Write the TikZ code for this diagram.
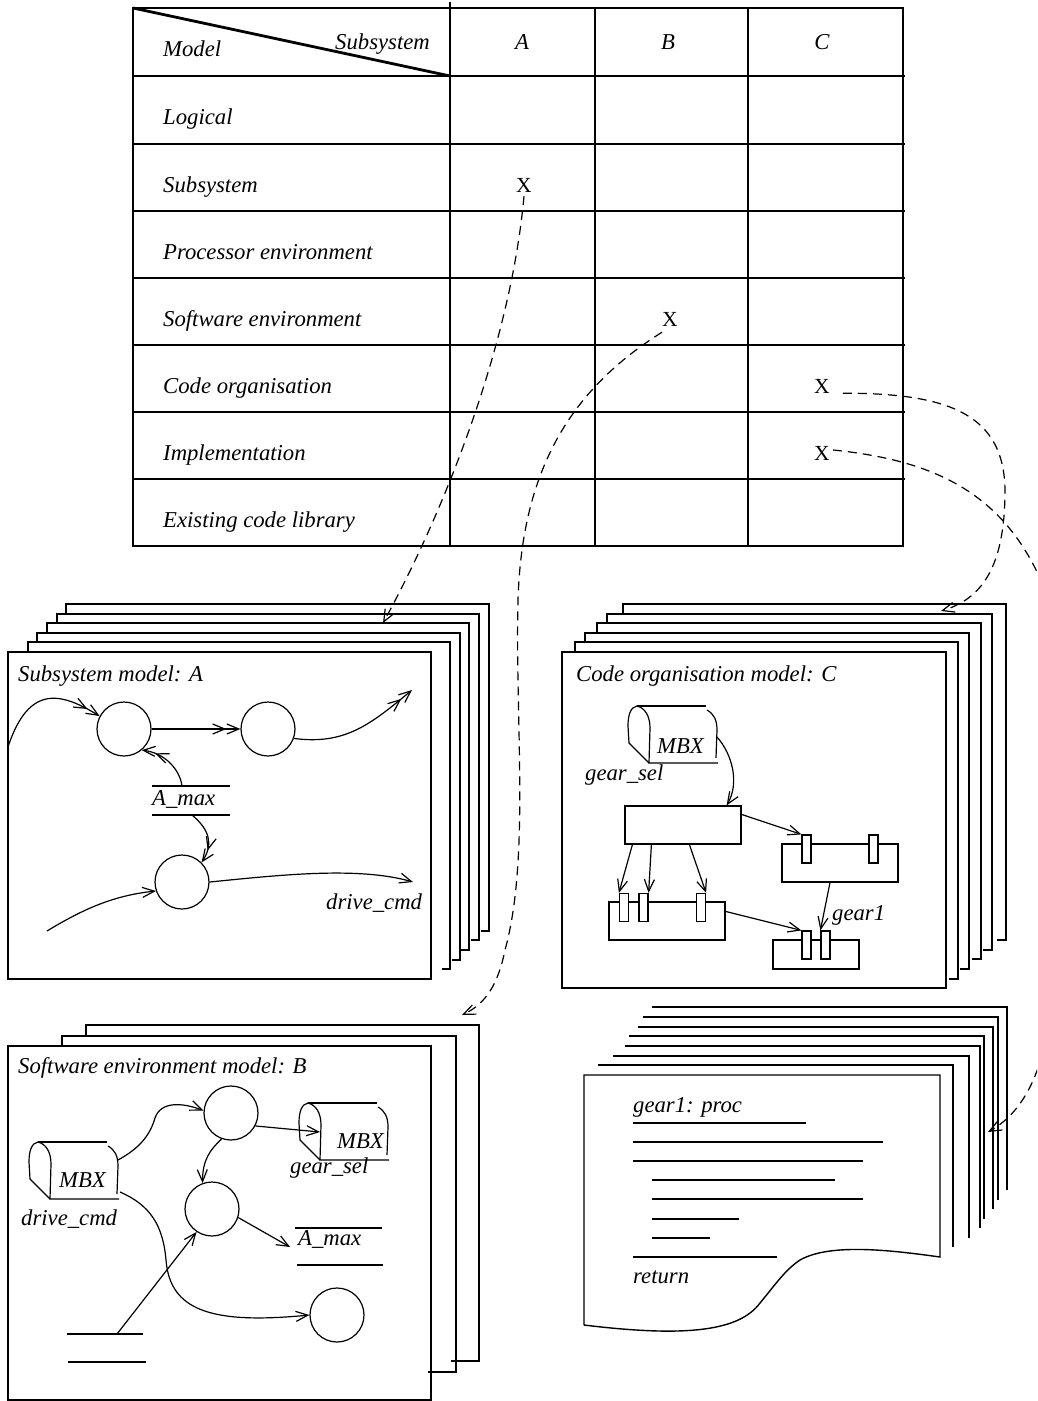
\documentclass[tikz,border=0pt]{standalone}
\usepackage{fontspec}
\setmainfont{Liberation Serif}
\usetikzlibrary{arrows.meta,bending}
\begin{document}
\begin{tikzpicture}[x=1pt,y=-1pt,
 tbl/.style={line width=2.8pt},
 pg/.style={line width=1.4pt},
 ln/.style={line width=1.2pt},
 txt/.style={inner sep=0pt, anchor=base west, font=\itshape\fontsize{22.7}{27}\selectfont},
 xmark/.style={inner sep=0pt, anchor=base, font=\upshape\fontsize{21.5}{25}\selectfont},
 circ/.style={circle, draw, line width=1.2pt, minimum size=54pt, inner sep=0pt},
 box/.style={draw, line width=1.2pt, inner sep=0pt},
 tab/.style={draw, fill=white, line width=1.2pt, inner sep=0pt, minimum width=9pt, minimum height=28pt},
 sa/.style={ln, -{Straight Barb[length=12pt,width=10pt]}},
 da/.style={ln, -{Straight Barb[length=12pt,width=10pt] Straight Barb[length=12pt,width=10pt]}},
 dsh/.style={ln, dash pattern=on 9pt off 6pt, -{Straight Barb[length=12pt,width=10pt]}},
 mbx/.pic={
  \draw[ln] (0,0) -- (69,0);
  \draw[ln] (0,0) .. controls (-6,1) and (-9,8) .. (-9,20) -- (-8,37) -- (12,57);
  \draw[ln] (0,0) .. controls (8,2) and (13,10) .. (13,22) -- (12,57) -- (81,57);
  \draw[ln] (70,4) .. controls (77,8) and (80,14) .. (80,24) -- (79,52);
  \coordinate (-a) at (80,18);
  \coordinate (-b) at (80,31);
  \coordinate (-c) at (82,50);
  \coordinate (-d) at (12,29);
 }]
\useasboundingbox (0,0) rectangle (1037,1401);
\clip (0,0) rectangle (1037,1401);

% ---------------- table ----------------
\draw[tbl] (133,8) rectangle (903,546);
\foreach \y in {76,144,211,278,345,412,479} \draw[tbl] (133,\y) -- (905,\y);
\foreach \x in {595,748} \draw[tbl] (\x,8) -- (\x,546);
\draw[tbl] (450,2) -- (450,546);
\draw[tbl] (133,8) -- (450,76);
\node[txt] (hmodel) at (163,56) {Model};
\node[txt, anchor=base east] (hsub) at (430,49) {Subsystem};
\node[txt, anchor=base] (hA) at (522,49) {A};
\node[txt, anchor=base] (hB) at (668,49) {B};
\node[txt, anchor=base] (hC) at (822,49) {C};
\node[txt] (r1) at (163,124) {Logical};
\node[txt] (r2) at (163,192) {Subsystem};
\node[txt] (r3) at (163,259) {Processor environment};
\node[txt] (r4) at (163,326) {Software environment};
\node[txt] (r5) at (163,393) {Code organisation};
\node[txt] (r6) at (163,460) {Implementation};
\node[txt] (r7) at (163,527) {Existing code library};
\node[xmark] (xA) at (524,192) {X};
\node[xmark] (xB) at (670,326) {X};
\node[xmark] (xC1) at (822,393) {X};
\node[xmark] (xC2) at (822,460) {X};

% ---------------- Subsystem model A stack ----------------
\foreach \L/\T/\R/\B/\P in {28/642/450/969/652, 37/633/460/960/642, 47/623/469/950/633, 57/614/479/940/623, 66/604/489/931/614}
  \draw[pg] (\L,\P) -- (\L,\T) -- (\R,\T) -- (\R,\B) -- ++(-8,0);
\draw[pg] (8,652) rectangle (431,979);
\node[txt] (tA) at (18,681) {Subsystem model: A};
\node[circ] (a1) at (124,729) {};
\node[circ] (a2) at (268,729) {};
\node[circ] (a3) at (182,882) {};
\draw[ln] (152,786) -- (230,786);
\draw[ln] (152,815) -- (230,815);
\node[txt] (amaxA) at (152,805) {A\_max};
\node[txt] (dcA) at (326,909) {drive\_cmd};
\coordinate (amaxTop) at (182,786);
\coordinate (amaxBot) at (192,815);
\coordinate (in1) at (8,747);
\coordinate (out2) at (412,690);
\coordinate (in3) at (47,931);
\coordinate (out3) at (413,882);
\draw[da] (in1) .. controls (30,680) and (65,695) .. (a1.152);
\draw[da] (a1.east) -- (a2.west);
\draw[da] (a2.-20) .. controls (345,745) and (370,725) .. (out2);
\draw[da] (amaxTop) .. controls (180,770) and (165,752) .. (a1.-50);
\draw[da] (amaxBot) .. controls (210,830) and (214,845) .. (a3.45);
\draw[sa] (in3) .. controls (85,908) and (115,895) .. (a3.199);
\draw[sa] (a3.east) .. controls (280,875) and (360,866) .. (out3);

% ---------------- Code organisation model C stack ----------------
\foreach \L/\T/\R/\B/\P in {575/642/958/979/652, 585/633/969/969/642, 597/623/981/959/633, 607/614/992/950/623, 623/604/1006/940/614}
  \draw[pg] (\L,\P) -- (\L,\T) -- (\R,\T) -- (\R,\B) -- ++(-9,0);
\draw[pg] (562,652) rectangle (946,988);
\node[txt] (tC) at (576,681) {Code organisation model: C};
\pic (sC) at (637,706) {mbx};
\node[txt] (mbxC) at (657,753) {MBX};
\node[txt] (gsC) at (585,780) {gear\_sel};
\node[box, minimum width=116pt, minimum height=38pt] (b1) at (683,825) {};
\node[box, minimum width=116pt, minimum height=38pt] (b2) at (840,863) {};
\node[box, minimum width=116pt, minimum height=38pt] (b3) at (667,921) {};
\node[box, minimum width=86pt, minimum height=29pt] (b4) at (816,954.5) {};
\node[tab] (t21) at (806.5,849) {};
\node[tab] (t22) at (873.5,849) {};
\node[tab] (t31) at (624,907.5) {};
\node[tab] (t32) at (643.5,907.5) {};
\node[tab] (t33) at (701,907.5) {};
\node[tab] (t41) at (806.5,945) {};
\node[tab] (t42) at (825.5,945) {};
\node[txt] (g1) at (832,920) {gear1};
\draw[sa] (sC-b) .. controls (733,755) and (740,785) .. ([xshift=-15pt]b1.north east);
\draw[sa] ([yshift=-9pt]b1.north east) -- (t21.north west);
\draw[sa] ([xshift=8pt]b1.south west) -- (t31.north west);
\draw[sa] ([xshift=27pt]b1.south west) -- (t32.north east);
\draw[sa] ([xshift=65pt]b1.south west) -- (t33.north east);
\draw[sa] ([yshift=-10pt]b3.north east) -- (t41.north west);
\draw[sa] ([xshift=-10pt]b2.south) -- (t42.north west);

% ---------------- Software environment model B stack ----------------
\foreach \L/\T/\R/\B/\P in {62/1036/456/1372/1046, 86/1025/479/1361/1036}
  \draw[pg] (\L,\P) -- (\L,\T) -- (\R,\T) -- (\R,\B) -- ++(-28,0);
\draw[pg] (8,1046) rectangle (431,1400);
\node[txt] (tB) at (18,1073) {Software environment model: B};
\node[circ] (ctop) at (231,1113) {};
\node[circ] (cmid) at (212,1209) {};
\node[circ] (cbot) at (337,1315) {};
\pic (sL) at (38,1142) {mbx};
\pic (sR) at (308,1103) {mbx};
\node[txt] (mbxL) at (59,1187) {MBX};
\node[txt] (dcB) at (21,1225) {drive\_cmd};
\node[txt] (mbxR) at (337,1148) {MBX};
\node[txt] (gsB) at (290,1173) {gear\_sel};
\draw[ln] (295,1228) -- (382,1228);
\draw[ln] (297,1265) -- (383,1265);
\node[txt] (amaxB) at (298,1245) {A\_max};
\coordinate (amaxBin) at (290,1247);
\draw[ln] (67,1334) -- (143,1334);
\draw[ln] (68,1362) -- (146,1362);
\coordinate (lone) at (117,1334);
\draw[sa] (sL-a) .. controls (140,1148) and (150,1135) .. (155,1118) .. controls (161,1100) and (185,1103) .. (ctop.175);
\draw[sa] (ctop.250) .. controls (210,1150) and (202,1160) .. (cmid.110);
\draw[sa] (ctop.-28) -- (sR-d);
\draw[sa] (sL-c) .. controls (150,1205) and (163,1225) .. (166,1260) .. controls (170,1310) and (210,1325) .. (cbot.west);
\draw[sa] (cmid.-18) -- (amaxBin);
\draw[sa] (lone) -- (cmid.236);

% ---------------- code listing stack ----------------
\foreach \L/\T/\R/\B in {598/1065/953/1247, 613/1056/969/1238, 625/1046/980/1228, 629/1036/984/1219, 638/1027/993/1209, 643/1017/998/1200, 652/1007/1007/1190}
  \draw[pg] (\L,\T) -- (\R,\T) -- (\R,\B);
\draw[pg, fill=white] (584,1325) -- (584,1075) -- (940,1075) -- (940,1257)
  .. controls (890,1250) and (830,1243) .. (800,1260)
  .. controls (785,1270) and (775,1285) .. (760,1303)
  .. controls (740,1330) and (690,1338) .. (584,1325);
\node[txt] (gp) at (633,1112) {gear1: proc};
\draw[ln] (633,1123) -- (806,1123);
\draw[ln] (633,1142) -- (883,1142);
\draw[ln] (633,1161) -- (863,1161);
\draw[ln] (652,1180) -- (835,1180);
\draw[ln] (652,1199) -- (863,1199);
\draw[ln] (652,1219) -- (739,1219);
\draw[ln] (652,1238) -- (710,1238);
\draw[ln] (633,1257) -- (777,1257);
\node[txt] (ret) at (633,1283) {return};

% ---------------- dashed links ----------------
\coordinate (endA) at (383,623);
\coordinate (endB) at (462,1015);
\coordinate (endC) at (941,611);
\coordinate (endD) at (988,1132);
\draw[dsh] ([yshift=-4pt]xA.south) .. controls (510,350) and (440,520) .. (endA);
\draw[dsh] ([shift={(-8,6)}]xB.south) .. controls (570,390) and (522,470) .. (518,600)
  .. controls (515,720) and (530,860) .. (505,950) .. controls (498,985) and (485,1005) .. (endB);
\draw[dsh] ([xshift=13pt]xC1.south east) .. controls (950,393) and (1004,415) .. (1005,490)
  .. controls (1005,570) and (980,600) .. (endC);
\draw[dsh] ([xshift=3pt,yshift=3pt]xC2.east) .. controls (930,460) and (1005,490) .. (1045,590)
  -- (1050,1020) .. controls (1040,1080) and (1020,1115) .. (endD);
\end{tikzpicture}
\end{document}
